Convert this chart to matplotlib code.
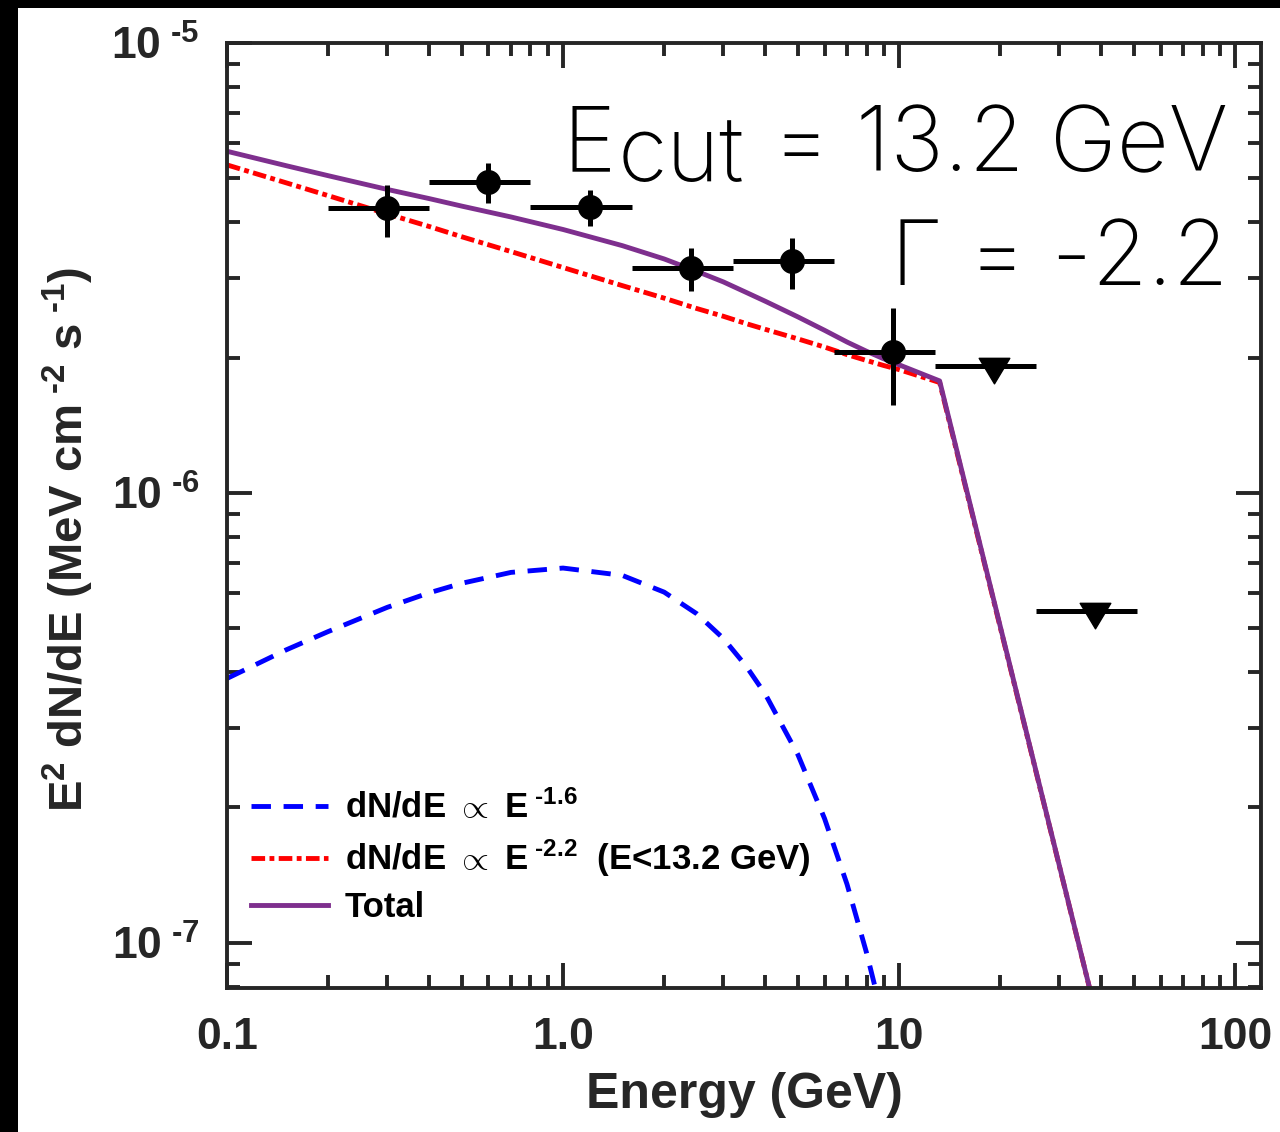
import numpy as np
import matplotlib
matplotlib.use('Agg')
import matplotlib.pyplot as plt
from matplotlib.path import Path
from matplotlib.patches import Rectangle
from matplotlib.ticker import NullFormatter

# binned SED points: energy (GeV), E^2 dN/dE (MeV cm^-2 s^-1)
energy = [0.3, 0.6, 1.2, 2.4, 4.8, 9.6]
e_low = [0.2, 0.4, 0.8, 1.6, 3.2, 6.4]
e_high = [0.4, 0.8, 1.6, 3.2, 6.4, 12.8]
flux = [4.30e-6, 4.91e-6, 4.32e-6, 3.16e-6, 3.28e-6, 2.06e-6]
flux_lo = [3.71e-6, 4.41e-6, 3.92e-6, 2.81e-6, 2.84e-6, 1.57e-6]
flux_hi = [4.83e-6, 5.41e-6, 4.71e-6, 3.50e-6, 3.69e-6, 2.58e-6]

# upper limits
ul_energy = [19.2, 38.4]
ul_low = [12.8, 25.6]
ul_high = [25.6, 51.2]
ul_flux = [1.92e-6, 5.47e-7]

# model components
model_energy = [0.1, 0.15, 0.2, 0.3, 0.4, 0.5, 0.7, 1.0, 1.5, 2.0, 2.5, 3.0,
                3.5, 4.0, 5.0, 6.0, 7.0, 8.0, 9.0, 10.0, 13.2, 45.0]
soft_flux = [3.87e-7, 4.48e-7, 4.92e-7, 5.57e-7, 6.00e-7, 6.30e-7, 6.66e-7,
             6.81e-7, 6.56e-7, 6.02e-7, 5.39e-7, 4.75e-7, 4.13e-7, 3.57e-7,
             2.62e-7, 1.89e-7, 1.35e-7, 9.51e-8, 6.68e-8, 4.67e-8, 1.45e-8, 0.0]
cut_flux = [5.36e-6, 4.89e-6, 4.58e-6, 4.17e-6, 3.91e-6, 3.71e-6, 3.44e-6,
            3.17e-6, 2.89e-6, 2.71e-6, 2.57e-6, 2.47e-6, 2.38e-6, 2.31e-6,
            2.20e-6, 2.11e-6, 2.03e-6, 1.97e-6, 1.92e-6, 1.88e-6, 1.76e-6,
            4.35e-8]

x_ticks = [0.1, 1.0, 10, 100]
x_tick_labels = ['0.1', '1.0', '10', '100']
y_ticks = [1e-7, 1e-6, 1e-5]
y_tick_labels = ['$10^{\\ \u20107}$', '$10^{\\ \u20106}$', '$10^{\\ \u20105}$']

plt.rcParams['font.family'] = ['Liberation Sans', 'DejaVu Sans']
plt.rcParams['font.weight'] = 'bold'
plt.rcParams['mathtext.fontset'] = 'custom'
plt.rcParams['mathtext.rm'] = 'Liberation Sans:bold'
plt.rcParams['mathtext.it'] = 'Liberation Sans:bold'
plt.rcParams['mathtext.bf'] = 'Liberation Sans:bold'
plt.rcParams['mathtext.default'] = 'rm'

axcol = '#262626'

fig = plt.figure(figsize=(12.8, 11.32), dpi=100, facecolor='black')
fig.patches.append(Rectangle((18 / 1280, 0), 1, 1 - 8 / 1132,
                             transform=fig.transFigure, facecolor='white',
                             edgecolor='none', zorder=-10))
ax = fig.add_axes([0.1773, 0.1272, 0.8079, 0.8348])
ax.set_xscale('log')
ax.set_yscale('log')

E = np.array(model_energy)
soft = np.array(soft_flux)
cut = np.array(cut_flux)
total = soft + cut

ax.plot(E[:-1], soft[:-1], color='#0000FF', lw=3.5, ls=(0, (4, 2.6)),
        label='dN/dE $\\propto$ E$^{\\ \u20101.6}$')
ax.plot(E, cut, color='#FF0000', lw=3.5, ls=(0, (2.8, 0.9, 1.0, 0.9)),
        label='dN/dE $\\propto$ E$^{\\ \u20102.2}$  (E<13.2 GeV)')
ax.plot(E, total, color='#7E2F8E', lw=3.5, label='Total')

en = np.array(energy)
fl = np.array(flux)
ax.errorbar(en, fl, xerr=[en - np.array(e_low), np.array(e_high) - en],
            yerr=[fl - np.array(flux_lo), np.array(flux_hi) - fl],
            fmt='o', color='black', ms=17, elinewidth=3.6, capsize=0, zorder=5)

ue = np.array(ul_energy)
ax.errorbar(ue, ul_flux, xerr=[ue - np.array(ul_low), np.array(ul_high) - ue],
            fmt='none', ecolor='black', elinewidth=3.6, capsize=0, zorder=5)
tri = Path([(-15, 8), (15, 8), (0, -17), (-15, 8)],
           [Path.MOVETO, Path.LINETO, Path.LINETO, Path.CLOSEPOLY])
ax.plot(ue, ul_flux, ls='none', marker=tri, ms=25, color='black', zorder=6)

ax.set_xlim(0.1, 119.4)
ax.set_ylim(7.94e-8, 1e-5)
ax.set_xticks(x_ticks)
ax.set_xticklabels(x_tick_labels)
ax.set_yticks(y_ticks)
ax.set_yticklabels(y_tick_labels)
ax.xaxis.set_minor_formatter(NullFormatter())
ax.yaxis.set_minor_formatter(NullFormatter())

for s in ax.spines.values():
    s.set_linewidth(2.8)
    s.set_color(axcol)
ax.tick_params(which='both', direction='in', top=True, right=True,
               width=2.8, color=axcol, labelcolor=axcol, labelsize=32)
ax.tick_params(which='major', length=18)
ax.tick_params(axis='x', which='major', pad=21)
ax.tick_params(axis='y', which='major', pad=20)
ax.tick_params(which='minor', length=9.5)

ax.set_xlabel('Energy (GeV)', fontsize=36, fontweight='bold', color=axcol,
              labelpad=10)
ax.set_ylabel('E$^2$ dN/dE (MeV cm$^{\\ \u20102}$ s$^{\\ \u20101}$)',
              fontsize=34, fontweight='bold', color=axcol)
ax.yaxis.set_label_coords(-0.127, 0.475)

ax.legend(loc='lower left', bbox_to_anchor=(0.0, 0.042), frameon=False,
          fontsize=25, handlelength=2.2, handletextpad=0.5, labelspacing=0.35,
          borderaxespad=0.3)

# fit parameters, built right to left so "cut" sits full size below the baseline
txt = dict(family=['Inter', 'Roboto', 'DejaVu Sans'], fontweight='light',
           fontsize=65, color='black')
t_rest = ax.text(0.968, 0.864, ' = 13.2 GeV', ha='right', va='baseline',
                 transform=ax.transAxes, **txt)
t_sub = ax.annotate('cut', xy=(0, 0), xycoords=t_rest, xytext=(-2, -7),
                    textcoords='offset points', ha='right', va='bottom', **txt)
ax.annotate('E', xy=(0, 0), xycoords=t_sub, xytext=(-1, 7),
            textcoords='offset points', ha='right', va='bottom', **txt)
ax.text(0.968, 0.744, 'Γ = -2.2', ha='right', va='baseline',
        transform=ax.transAxes, **txt)

fig.savefig('out.png', dpi=100)
